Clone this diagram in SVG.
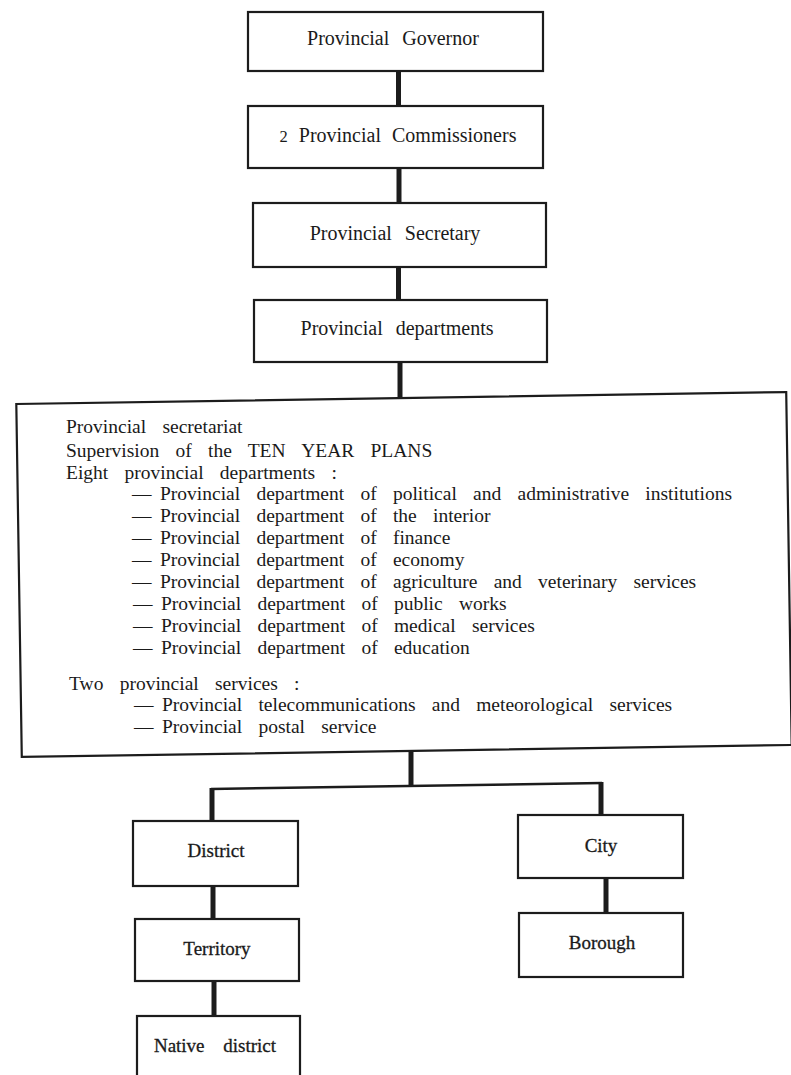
<svg xmlns="http://www.w3.org/2000/svg" width="791" height="1075" viewBox="0 0 791 1075">
<style>
.box{fill:#fff;stroke:#1c1c1c;stroke-width:2.2}
.t{font-family:'Liberation Serif','Times New Roman',serif;font-size:20px;fill:#1a1a1a;text-anchor:middle;word-spacing:8px}
.b{font-family:'Liberation Serif','Times New Roman',serif;font-size:19px;fill:#1a1a1a;text-anchor:middle;stroke:#1a1a1a;stroke-width:0.3;word-spacing:14px}
.l{font-family:'Liberation Serif','Times New Roman',serif;font-size:19.5px;fill:#1a1a1a;word-spacing:11.4px}
.bar{stroke:#1c1c1c;stroke-width:5;fill:none}
.thin{stroke:#1c1c1c;stroke-width:2.5;fill:none}
</style>
<rect width="791" height="1075" fill="#fff"/>
<g id="connectors">
<line class="bar" x1="398.5" y1="72" x2="398.5" y2="106"/>
<line class="bar" x1="399" y1="169" x2="399" y2="203"/>
<line class="bar" x1="398.5" y1="267" x2="398.5" y2="300"/>
<line class="bar" x1="400" y1="362" x2="400" y2="397"/>
<line class="bar" x1="411" y1="752" x2="411" y2="786"/>
<polyline class="thin" points="211,789 602,783"/>
<line class="bar" x1="212" y1="788" x2="212" y2="821"/>
<line class="bar" x1="601" y1="782" x2="601" y2="815"/>
<line class="bar" x1="213" y1="886" x2="213" y2="919"/>
<line class="bar" x1="214" y1="981" x2="214" y2="1016"/>
<line class="bar" x1="606" y1="878" x2="606" y2="913"/>
</g>
<g id="governor">
<rect class="box" x="248" y="12" width="295" height="59"/>
<text class="t" x="393" y="45">Provincial Governor</text>
</g>
<g id="commissioners">
<rect class="box" x="248" y="106" width="295" height="62"/>
<text class="t" x="398" y="142" style="word-spacing:6px"><tspan font-size="16.5">2</tspan> Provincial Commissioners</text>
</g>
<g id="secretary">
<rect class="box" x="253" y="203" width="293" height="64"/>
<text class="t" x="395" y="240">Provincial Secretary</text>
</g>
<g id="departments">
<rect class="box" x="254" y="300" width="293" height="62"/>
<text class="t" x="397" y="335">Provincial departments</text>
</g>
<g id="secretariat">
<rect class="box" x="19" y="398" width="770" height="353" transform="rotate(-0.89 404 574.5)"/>
<text class="l" x="66" y="433">Provincial secretariat</text>
<text class="l" x="66" y="457">Supervision of the TEN YEAR PLANS</text>
<text class="l" x="66" y="479">Eight provincial departments :</text>
<text class="l" y="500"><tspan x="132">—</tspan><tspan x="160">Provincial department of political and administrative institutions</tspan></text>
<text class="l" y="522"><tspan x="132">—</tspan><tspan x="160">Provincial department of the interior</tspan></text>
<text class="l" y="544"><tspan x="132">—</tspan><tspan x="160">Provincial department of finance</tspan></text>
<text class="l" y="566"><tspan x="132">—</tspan><tspan x="160">Provincial department of economy</tspan></text>
<text class="l" y="588"><tspan x="132">—</tspan><tspan x="160">Provincial department of agriculture and veterinary services</tspan></text>
<text class="l" y="610"><tspan x="133">—</tspan><tspan x="161">Provincial department of public works</tspan></text>
<text class="l" y="632"><tspan x="133">—</tspan><tspan x="161">Provincial department of medical services</tspan></text>
<text class="l" y="654"><tspan x="133">—</tspan><tspan x="161">Provincial department of education</tspan></text>
<text class="l" x="69" y="690">Two provincial services :</text>
<text class="l" y="711"><tspan x="134">—</tspan><tspan x="162">Provincial telecommunications and meteorological services</tspan></text>
<text class="l" y="733"><tspan x="134">—</tspan><tspan x="162">Provincial postal service</tspan></text>
</g>
<g id="district">
<rect class="box" x="133" y="821" width="165" height="65"/>
<text class="b" x="216" y="857">District</text>
</g>
<g id="territory">
<rect class="box" x="135" y="919" width="164" height="62"/>
<text class="b" x="217" y="955">Territory</text>
</g>
<g id="native-district">
<rect class="box" x="137" y="1016" width="163" height="75"/>
<text class="b" x="215" y="1052">Native district</text>
</g>
<g id="city">
<rect class="box" x="518" y="815" width="165" height="63"/>
<text class="b" x="601" y="852">City</text>
</g>
<g id="borough">
<rect class="box" x="519" y="913" width="164" height="64"/>
<text class="b" x="602" y="949">Borough</text>
</g>
</svg>
